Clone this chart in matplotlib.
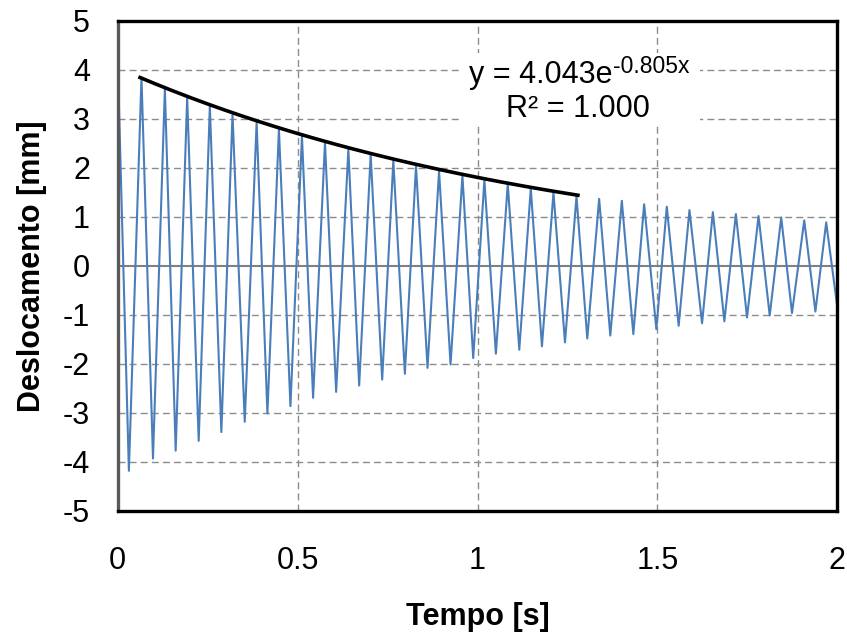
import numpy as np
import matplotlib.pyplot as plt
from matplotlib.patches import Rectangle

plt.rcParams['font.family'] = ['Liberation Sans', 'DejaVu Sans']
plt.rcParams['axes.unicode_minus'] = False

# ------------------------------------------------------
# Data: peaks and troughs of the signal
# ------------------------------------------------------
peak_t = [0.000, 0.066, 0.131, 0.193, 0.256, 0.319, 0.386, 0.448, 0.512, 0.576,
          0.641, 0.703, 0.766, 0.829, 0.893, 0.958, 1.019, 1.084, 1.148, 1.211,
          1.275, 1.338, 1.401, 1.463, 1.526, 1.589, 1.654, 1.718, 1.781, 1.844,
          1.908, 1.969]
peak_v = [4.18, 3.85, 3.62, 3.44, 3.26, 3.10, 2.93, 2.79, 2.65, 2.52,
          2.38, 2.27, 2.15, 2.04, 1.94, 1.84, 1.76, 1.67, 1.58, 1.50,
          1.42, 1.37, 1.33, 1.26, 1.21, 1.14, 1.10, 1.06, 1.02, 0.99,
          0.93, 0.89]

trough_t = [0.031, 0.098, 0.161, 0.225, 0.288, 0.353, 0.416, 0.480, 0.543, 0.607,
            0.671, 0.735, 0.798, 0.861, 0.925, 0.988, 1.051, 1.116, 1.179, 1.243,
            1.305, 1.369, 1.433, 1.497, 1.559, 1.624, 1.686, 1.749, 1.812, 1.874,
            1.939, 2.000]
trough_v = [-4.18, -3.93, -3.77, -3.57, -3.39, -3.18, -3.01, -2.86, -2.69, -2.57,
            -2.44, -2.32, -2.20, -2.08, -2.01, -1.88, -1.79, -1.71, -1.64, -1.56,
            -1.48, -1.42, -1.39, -1.29, -1.22, -1.17, -1.13, -1.05, -1.01, -0.96,
            -0.93, -0.84]

# exponential trendline shown on the chart
fit_a = 4.043
fit_b = -0.805
fit_start, fit_end = 0.062, 1.279

x_ticks = [0, 0.5, 1, 1.5, 2]
x_labels = ["0", "0.5", "1", "1.5", "2"]
y_ticks = list(range(-5, 6))

# merge peaks and troughs in time order
t = np.array(peak_t + trough_t)
v = np.array(peak_v + trough_v)
order = np.argsort(t)
t, v = t[order], v[order]

fit_x = np.linspace(fit_start, fit_end, 200)
fit_y = fit_a * np.exp(fit_b * fit_x)

# ------------------------------------------------------
# Plot
# ------------------------------------------------------
fig = plt.figure(figsize=(8.47, 6.32), dpi=100)
ax = fig.add_axes([0.139, 0.1915, 0.8496, 0.7753])

grid_kw = dict(color="#8c8c8c", lw=1.0, linestyle=(0, (5, 3)), zorder=1)
for yv in y_ticks:
    if yv != 0:
        ax.axhline(yv, **grid_kw)
for xv in x_ticks[1:-1]:
    ax.axvline(xv, **grid_kw)
ax.axhline(0, color="#808080", lw=1.5, zorder=1)

ax.plot(t, v, color="#4a7ebb", lw=1.5, zorder=2)
ax.plot(fit_x, fit_y, color="black", lw=2.6, zorder=3)

# white label box of the trendline equation (hides the grid behind it)
ax.add_patch(Rectangle((0.952, 2.88), 0.665, 1.47, facecolor="white",
                       edgecolor="none", zorder=4))
# superscript as its own text so the hyphen stays a hyphen
ax.text(1.374, 3.73, "y = 4.043e", fontsize=22, ha="right", va="baseline", zorder=5)
ax.text(1.376, 3.93, "-0.805x", fontsize=16.5, ha="left", va="baseline", zorder=5)
ax.text(1.28, 3.04, "R² = 1.000", fontsize=22, ha="center", va="baseline", zorder=5)

ax.set_xlim(0, 2)
ax.set_ylim(-5, 5)
ax.set_xticks(x_ticks)
ax.set_xticklabels(x_labels)
ax.set_yticks(y_ticks)
ax.tick_params(axis="both", length=0, labelsize=22)
ax.tick_params(axis="x", pad=25)
ax.tick_params(axis="y", pad=20)

for side in ["top", "right", "bottom"]:
    ax.spines[side].set_color("black")
    ax.spines[side].set_linewidth(2.4)
ax.spines["left"].set_color("#595959")
ax.spines["left"].set_linewidth(2.4)

ax.set_xlabel("Tempo [s]", fontsize=22, fontweight="bold", labelpad=19)
ax.set_ylabel("Deslocamento [mm]", fontsize=22, fontweight="bold", labelpad=11)

fig.savefig("out.png", dpi=100)
